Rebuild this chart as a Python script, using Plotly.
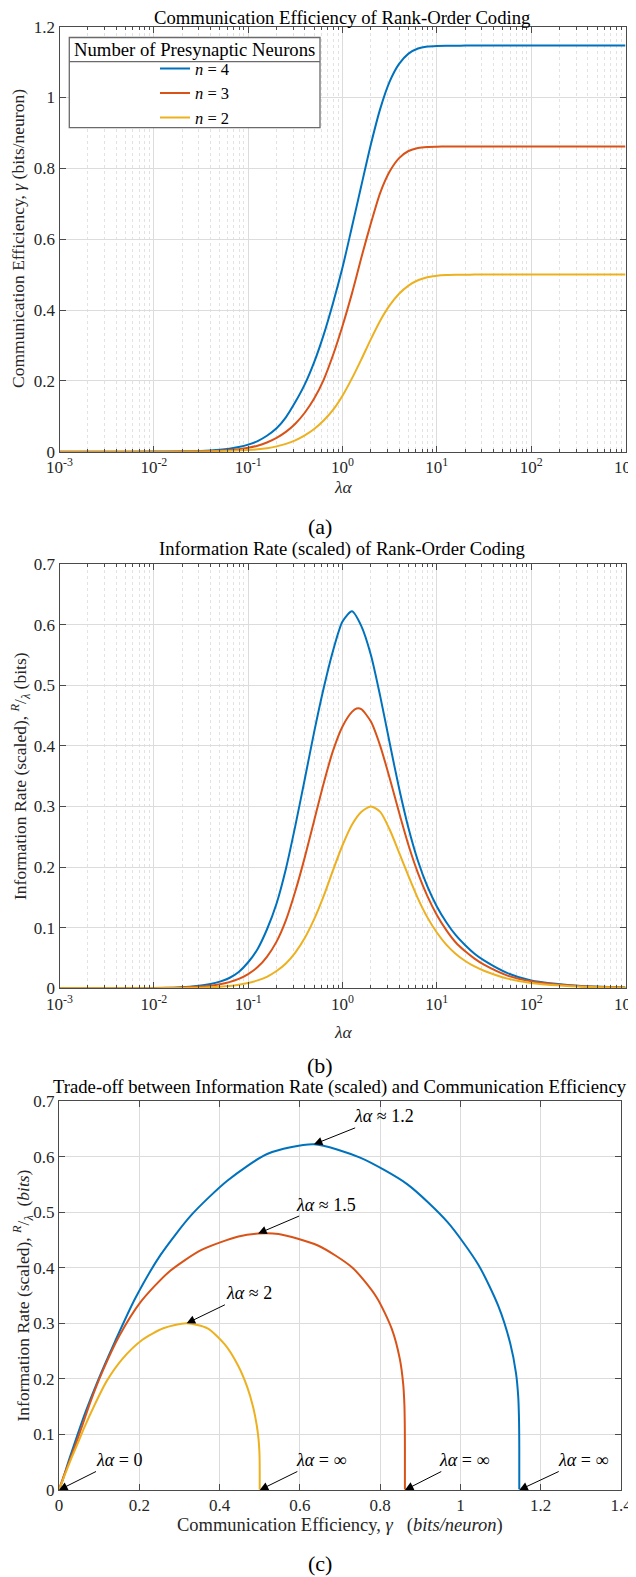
import plotly.graph_objects as go

# ---------------- data ----------------
n_labels = ["<i>n</i> = 4", "<i>n</i> = 3", "<i>n</i> = 2"]
colors = ["#0072BD", "#D95319", "#EDB120"]

# lambda*alpha sample points for each curve
la_n4 = [0.001, 0.00316, 0.01, 0.0178, 0.0316, 0.0398, 0.0501, 0.0631, 0.0794, 0.1, 0.126,
         0.158, 0.2, 0.251, 0.316, 0.398, 0.501, 0.631, 0.794, 1.0, 1.26, 1.58, 2.0, 2.51,
         3.16, 3.98, 5.01, 6.31, 7.94, 10, 12.6, 15.8, 20, 25.1, 31.6, 56.2, 100, 316, 1000]
la_n3 = [0.001, 0.00316, 0.01, 0.0178, 0.0316, 0.0398, 0.0501, 0.0631, 0.0794, 0.1, 0.126,
         0.158, 0.2, 0.251, 0.316, 0.398, 0.501, 0.631, 0.794, 1.0, 1.26, 1.41, 1.58, 2.0,
         2.51, 3.16, 3.98, 5.01, 6.31, 7.94, 10, 12.6, 15.8, 20, 25.1, 31.6, 56.2, 100, 316,
         1000]
la_n2 = [0.001, 0.00316, 0.01, 0.0178, 0.0316, 0.0398, 0.0501, 0.0631, 0.0794, 0.1, 0.126,
         0.158, 0.2, 0.251, 0.316, 0.398, 0.501, 0.631, 0.794, 1.0, 1.26, 1.58, 2.0, 2.51,
         3.16, 3.98, 5.01, 6.31, 7.94, 10, 12.6, 15.8, 20, 25.1, 31.6, 56.2, 100, 316, 1000]

# communication efficiency gamma (bits/neuron)
gamma_n4 = [0.0000025, 0.000025, 0.00025, 0.0008, 0.0023, 0.0036, 0.0056, 0.0087, 0.0132,
            0.020, 0.030, 0.045, 0.066, 0.097, 0.14, 0.19, 0.253, 0.33, 0.42, 0.52, 0.635,
            0.75, 0.868, 0.968, 1.045, 1.095, 1.124, 1.1385, 1.144, 1.1457, 1.1463, 1.1465,
            1.1466, 1.1466, 1.1466, 1.1466, 1.1466, 1.1466, 1.1466]
gamma_n3 = [0.0000011, 0.000011, 0.00011, 0.00037, 0.0011, 0.0018, 0.0029, 0.0045, 0.0071,
            0.011, 0.017, 0.026, 0.039, 0.056, 0.079, 0.11, 0.150, 0.203, 0.273, 0.355, 0.447,
            0.496, 0.547, 0.645, 0.731, 0.791, 0.829, 0.849, 0.8575, 0.8605, 0.8613, 0.8616,
            0.8617, 0.8617, 0.8617, 0.8617, 0.8617, 0.8617, 0.8617, 0.8617]
gamma_n2 = [0.00000055, 0.0000055, 0.000055, 0.00018, 0.00055, 0.00085, 0.0013, 0.002, 0.0031,
            0.0046, 0.0068, 0.01, 0.015, 0.022, 0.032, 0.046, 0.064, 0.088, 0.118, 0.158, 0.207,
            0.26, 0.318, 0.37, 0.413, 0.446, 0.469, 0.484, 0.4925, 0.497, 0.499, 0.4997,
            0.4999, 0.5, 0.5, 0.5, 0.5, 0.5, 0.5]

# scaled information rate R/lambda (bits)
rate_n4 = [0.00001, 0.0001, 0.0004, 0.0013, 0.0046, 0.007, 0.011, 0.017, 0.027, 0.043, 0.065,
           0.097, 0.14, 0.197, 0.268, 0.345, 0.423, 0.495, 0.557, 0.605, 0.622, 0.598, 0.55,
           0.482, 0.405, 0.33, 0.264, 0.21, 0.168, 0.135, 0.109, 0.088, 0.071, 0.057, 0.046,
           0.025, 0.013, 0.0042, 0.0013]
rate_n3 = [0.000005, 0.00005, 0.0005, 0.0011, 0.0028, 0.0043, 0.0066, 0.0102, 0.0155, 0.0235,
           0.035, 0.052, 0.077, 0.112, 0.16, 0.216, 0.277, 0.338, 0.392, 0.432, 0.456, 0.4615,
           0.4605, 0.44, 0.40, 0.347, 0.29, 0.236, 0.19, 0.152, 0.121, 0.096, 0.076, 0.061,
           0.049, 0.039, 0.021, 0.0115, 0.0036, 0.0011]
rate_n2 = [0.000002, 0.00002, 0.0002, 0.0005, 0.0011, 0.0017, 0.0026, 0.0039, 0.0059, 0.0088,
           0.013, 0.019, 0.0285, 0.041, 0.059, 0.083, 0.114, 0.152, 0.195, 0.236, 0.27, 0.291,
           0.30, 0.291, 0.262, 0.224, 0.185, 0.148, 0.117, 0.092, 0.072, 0.057, 0.045, 0.036,
           0.029, 0.016, 0.0088, 0.0028, 0.0009]

peak_labels = ["<i>λα</i> ≈ 1.2", "<i>λα</i> ≈ 1.5", "<i>λα</i> ≈ 2"]

x_log_ticks = [1e-3, 1e-2, 1e-1, 1e0, 1e1, 1e2, 1e3]
x_log_text = ["10<sup>-3</sup>", "10<sup>-2</sup>", "10<sup>-1</sup>", "10<sup>0</sup>",
              "10<sup>1</sup>", "10<sup>2</sup>", "10<sup>3</sup>"]

# ---------------- figure ----------------
# the page body adds an 8 px offset, so the figure is 8 px smaller and coordinates shift
OFF = 8
W, H = 636 - OFF, 1577 - OFF
FONT = "Liberation Serif, Times New Roman, serif"
AX = "#262626"
LINE = "#4a4a4a"
GRID = "#dcdcdc"
MGRID = "#e2e2e2"

las = [la_n4, la_n3, la_n2]
gams = [gamma_n4, gamma_n3, gamma_n2]
rates = [rate_n4, rate_n3, rate_n2]

fig = go.Figure()
for i in range(3):
    fig.add_trace(go.Scatter(x=las[i], y=gams[i], mode="lines", name=n_labels[i],
                             line=dict(color=colors[i], width=2, shape="spline", smoothing=0.7),
                             xaxis="x", yaxis="y", showlegend=True))
for i in range(3):
    fig.add_trace(go.Scatter(x=las[i], y=rates[i], mode="lines", name=n_labels[i],
                             line=dict(color=colors[i], width=2, shape="spline", smoothing=0.7),
                             xaxis="x2", yaxis="y2", showlegend=False))
for i in range(3):
    fig.add_trace(go.Scatter(x=gams[i], y=rates[i], mode="lines", name=n_labels[i],
                             line=dict(color=colors[i], width=2, shape="spline", smoothing=0.7),
                             xaxis="x3", yaxis="y3", showlegend=False))


def px_x(p):
    return (p - OFF) / W


def px_y(p):
    return 1 - (p - OFF) / H


minor_vals = [m * 10.0 ** e for e in range(-3, 3) for m in range(2, 10)]

tickfont = dict(family=FONT, size=17, color=AX)


def log_x(domain, anchor):
    return dict(type="log", range=[-3, 3], domain=domain, anchor=anchor, automargin=False,
                tickmode="array", tickvals=x_log_ticks, ticktext=x_log_text,
                ticks="inside", ticklen=6, tickcolor=LINE, tickfont=tickfont,
                ticklabeloverflow="allow",
                showline=True, linecolor=LINE, linewidth=1, mirror="allticks",
                showgrid=True, gridcolor=GRID, gridwidth=1, zeroline=False,
                minor=dict(tickmode="array", tickvals=minor_vals, ticks="inside", ticklen=3,
                           tickcolor=LINE, showgrid=True, gridcolor=MGRID, griddash="dot",
                           gridwidth=1))


def lin_y(domain, anchor, rng, dt):
    return dict(range=rng, domain=domain, anchor=anchor, dtick=dt, tick0=0, automargin=False,
                ticks="inside", ticklen=6, tickcolor=LINE, tickfont=tickfont,
                ticklabeloverflow="allow",
                showline=True, linecolor=LINE, linewidth=1, mirror="allticks",
                showgrid=True, gridcolor=GRID, gridwidth=1, zeroline=False)


ya = [px_y(451.7), px_y(26.7)]
yb = [px_y(988.3), px_y(564)]
yc = [px_y(1490), px_y(1101)]
xab = [px_x(59.5), px_x(625.5)]
xc = [px_x(59), px_x(621)]

xaxis3 = dict(range=[0, 1.4], domain=xc, anchor="y3", dtick=0.2, tick0=0, automargin=False,
              ticks="inside", ticklen=6, tickcolor=LINE, tickfont=tickfont,
              ticklabeloverflow="allow",
              showline=True, linecolor=LINE, linewidth=1, mirror="allticks",
              showgrid=True, gridcolor=GRID, gridwidth=1, zeroline=False)

fig.update_layout(
    width=W, height=H, margin=dict(l=0, r=0, t=0, b=0, autoexpand=False),
    paper_bgcolor="white", plot_bgcolor="white",
    font=dict(family=FONT, size=17, color=AX),
    xaxis=log_x(xab, "y"),
    yaxis=lin_y(ya, "x", [0, 1.2], 0.2),
    xaxis2=log_x(xab, "y2"),
    yaxis2=lin_y(yb, "x2", [0, 0.7], 0.1),
    xaxis3=xaxis3,
    yaxis3=lin_y(yc, "x3", [0, 0.7], 0.1),
    legend=dict(x=px_x(155), y=px_y(93.3), xanchor="left", yanchor="middle",
                bgcolor="rgba(0,0,0,0)", borderwidth=0,
                font=dict(family=FONT, size=16.5, color="black"), tracegroupgap=0,
                itemwidth=30),
    showlegend=True,
)

# legend frame and title
fig.add_shape(type="rect", xref="paper", yref="paper",
              x0=px_x(69.3), x1=px_x(320), y0=px_y(127.7), y1=px_y(37.5),
              line=dict(color="#6a6a6a", width=1.3), fillcolor="white", layer="above")
fig.add_shape(type="line", xref="paper", yref="paper",
              x0=px_x(69.3), x1=px_x(320), y0=px_y(61.7), y1=px_y(61.7),
              line=dict(color="#6a6a6a", width=1.3), layer="above")
fig.add_annotation(xref="paper", yref="paper", x=px_x(194.5), y=px_y(49.5),
                   text="Number of Presynaptic Neurons", showarrow=False,
                   font=dict(family=FONT, size=18.7, color="black"),
                   xanchor="center", yanchor="middle")

# panel titles, axis titles and sub-labels
TF = dict(family=FONT, size=18.7, color="black")
AF = dict(family=FONT, size=17.5, color=AX)
LF = dict(family=FONT, size=22, color="black")
texts = [
    ("Communication Efficiency of Rank-Order Coding", 342, 17.5, 0, TF),
    ("Information Rate (scaled) of Rank-Order Coding", 342, 549.3, 0, TF),
    ("Trade-off between Information Rate (scaled) and Communication Efficiency", 339.5, 1086.7, 0, TF),
    ("<i>λα</i>", 343, 487, 0, AF),
    ("<i>λα</i>", 343, 1031.7, 0, AF),
    ("Communication Efficiency, <i>γ</i>   (<i>bits/neuron</i>)", 340, 1525, 0,
     dict(family=FONT, size=18.5, color=AX)),
    ("Communication Efficiency, <i>γ</i> (bits/neuron)", 18, 239, -90, AF),
    ("Information Rate (scaled), <sup><i>R</i></sup>/<sub><i>λ</i></sub> (bits)", 20, 776, -90, AF),
    ("Information Rate (scaled), <sup><i>R</i></sup>/<sub><i>λ</i></sub>  (<i>bits</i>)", 23, 1295.5, -90, AF),
    ("(a)", 320, 526.7, 0, LF),
    ("(b)", 320, 1065, 0, LF),
    ("(c)", 320, 1563, 0, LF),
]
for t, xx, yy, ang, f in texts:
    fig.add_annotation(xref="paper", yref="paper", x=px_x(xx), y=px_y(yy), text=t,
                       showarrow=False, font=f, textangle=ang, borderpad=0,
                       xanchor="center", yanchor="middle")

# arrows in the trade-off panel
ann_font = dict(family=FONT, size=18, color="black")
peak_offsets = [(70, -28), (68, -29), (62, -30)]
inf_offsets = [(64, -30), (59, -30), (61, -30)]
ARW = dict(showarrow=True, arrowhead=2, arrowsize=1.7, arrowwidth=1, arrowcolor="black")
for i in range(3):
    k = max(range(len(rates[i])), key=lambda j: rates[i][j])
    fig.add_annotation(xref="x3", yref="y3", x=gams[i][k], y=rates[i][k],
                       text=peak_labels[i], ax=peak_offsets[i][0], ay=peak_offsets[i][1],
                       font=ann_font, **ARW)
    fig.add_annotation(xref="x3", yref="y3", x=gams[i][-1], y=0,
                       text="<i>λα</i> = ∞", ax=inf_offsets[i][0], ay=inf_offsets[i][1],
                       font=ann_font, **ARW)
fig.add_annotation(xref="x3", yref="y3", x=0, y=0, text="<i>λα</i> = 0",
                   ax=60, ay=-30, font=ann_font, **ARW)

fig.write_html("out.html")
